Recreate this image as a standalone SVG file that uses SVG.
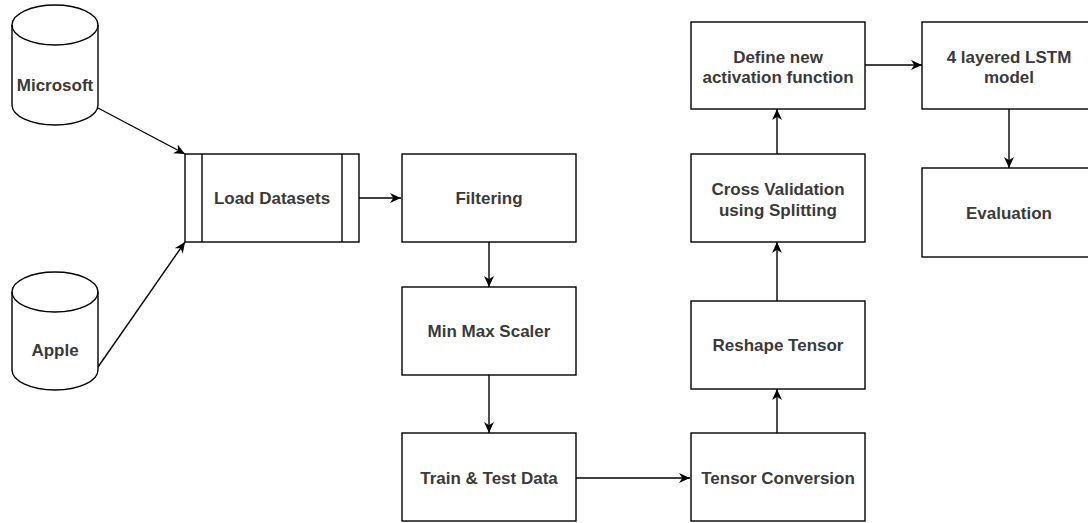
<svg xmlns="http://www.w3.org/2000/svg" width="1088" height="523" viewBox="0 0 1088 523">
<defs>
<style>
.box{fill:#fff;stroke:#000;stroke-width:1.4}
.lbl{font-family:"Liberation Sans",Arial,sans-serif;font-size:17px;font-weight:bold;fill:#3a3a3a;text-anchor:middle}
.edge{fill:none;stroke:#000;stroke-width:1.4}
</style>
<marker id="arr" viewBox="0 0 10 10" refX="10" refY="5" markerWidth="11" markerHeight="11" markerUnits="userSpaceOnUse" orient="auto">
<path d="M0,0.5 L10,5 L0,9.5 L3,5 z" fill="#000"/>
</marker>
</defs>
<rect width="1088" height="523" fill="#fff"/>
<g id="connectors">
<path class="edge" d="M98,108 L185,154" marker-end="url(#arr)"/>
<path class="edge" d="M98,367 L185,242" marker-end="url(#arr)"/>
<path class="edge" d="M359,198 L401,198" marker-end="url(#arr)"/>
<path class="edge" d="M489,242 L489,287" marker-end="url(#arr)"/>
<path class="edge" d="M489,375 L489,433" marker-end="url(#arr)"/>
<path class="edge" d="M576,478 L690,478" marker-end="url(#arr)"/>
<path class="edge" d="M777,433 L777,389" marker-end="url(#arr)"/>
<path class="edge" d="M777,301 L777,242" marker-end="url(#arr)"/>
<path class="edge" d="M777,154 L777,109" marker-end="url(#arr)"/>
<path class="edge" d="M865,65 L922,65" marker-end="url(#arr)"/>
<path class="edge" d="M1009,109 L1009,168" marker-end="url(#arr)"/>
</g>
<g id="microsoft">
<path class="box" d="M12,25 A43,20 0 0 1 98,25 L98,105 A43,20 0 0 1 12,105 Z"/>
<path class="edge" d="M12,25 A43,20 0 0 0 98,25"/>
<text class="lbl" x="55" y="91">Microsoft</text>
</g>
<g id="apple">
<path class="box" d="M12,292 A43,20 0 0 1 98,292 L98,370 A43,20 0 0 1 12,370 Z"/>
<path class="edge" d="M12,292 A43,20 0 0 0 98,292"/>
<text class="lbl" x="55" y="356">Apple</text>
</g>
<g id="load-datasets">
<rect class="box" x="185" y="154" width="174" height="88"/>
<path class="edge" d="M202,154 L202,242 M342,154 L342,242"/>
<text class="lbl" x="272" y="204">Load Datasets</text>
</g>
<g id="filtering">
<rect class="box" x="402" y="154" width="174" height="88"/>
<text class="lbl" x="489" y="204">Filtering</text>
</g>
<g id="min-max-scaler">
<rect class="box" x="402" y="287" width="174" height="88"/>
<text class="lbl" x="489" y="337">Min Max Scaler</text>
</g>
<g id="train-test">
<rect class="box" x="402" y="433" width="174" height="88"/>
<text class="lbl" x="489" y="484">Train &amp; Test Data</text>
</g>
<g id="tensor-conversion">
<rect class="box" x="691" y="433" width="174" height="88"/>
<text class="lbl" x="778" y="484">Tensor Conversion</text>
</g>
<g id="reshape-tensor">
<rect class="box" x="691" y="301" width="174" height="88"/>
<text class="lbl" x="778" y="351">Reshape Tensor</text>
</g>
<g id="cross-validation">
<rect class="box" x="691" y="154" width="174" height="88"/>
<text class="lbl" x="778" y="195">Cross Validation</text>
<text class="lbl" x="778" y="216">using Splitting</text>
</g>
<g id="define-activation">
<rect class="box" x="691" y="22" width="174" height="87"/>
<text class="lbl" x="778" y="63">Define new</text>
<text class="lbl" x="778" y="83">activation function</text>
</g>
<g id="lstm">
<rect class="box" x="922" y="22" width="174" height="87"/>
<text class="lbl" x="1009" y="63">4 layered LSTM</text>
<text class="lbl" x="1009" y="83">model</text>
</g>
<g id="evaluation">
<rect class="box" x="922" y="168" width="174" height="89"/>
<text class="lbl" x="1009" y="219">Evaluation</text>
</g>
</svg>
